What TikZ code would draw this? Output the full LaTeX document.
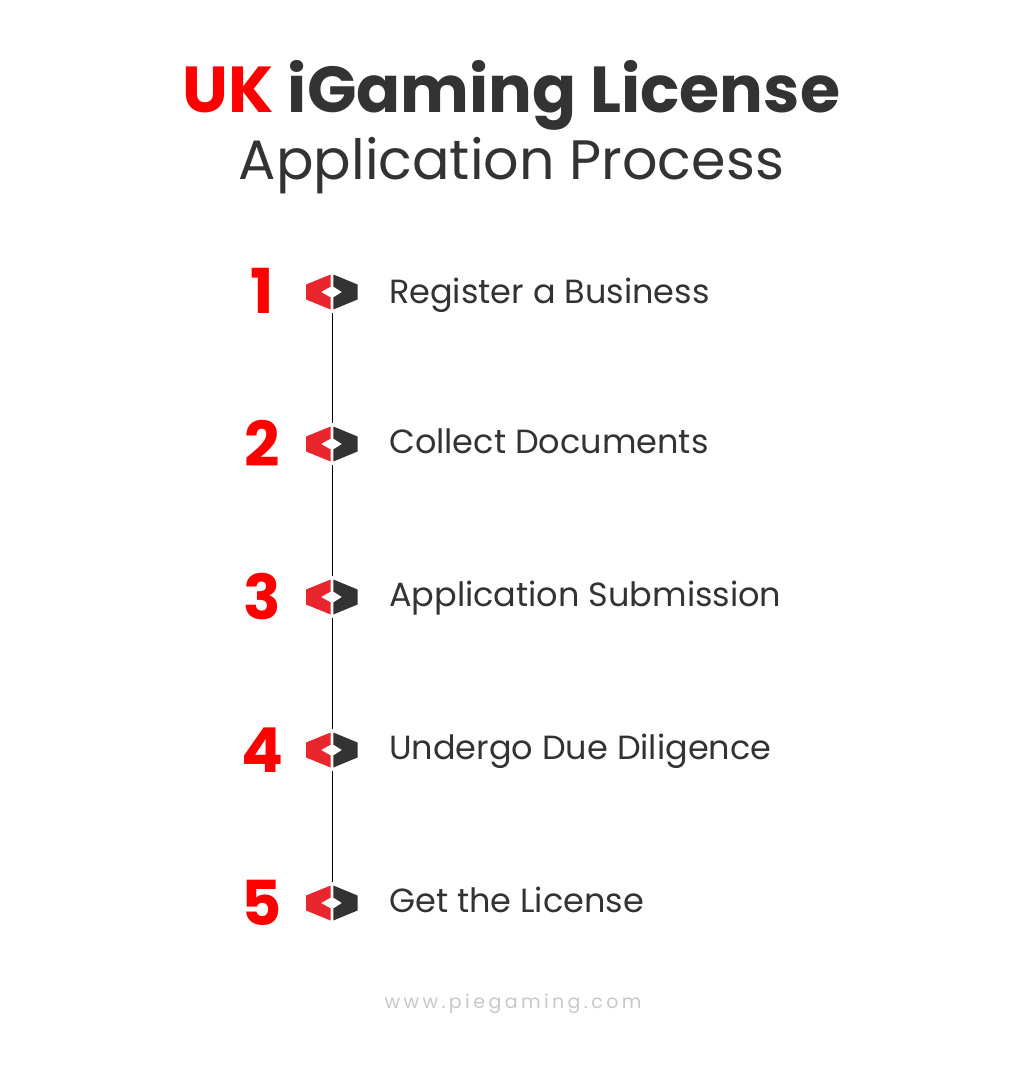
\documentclass[tikz,border=0pt]{standalone}
\usepackage{fontspec}
\setmainfont{Poppins}
\newfontfamily\footfont{Poppins}[LetterSpace=18]
\usetikzlibrary{calc}
\definecolor{tred}{HTML}{FF0000}
\definecolor{ired}{HTML}{E9262E}
\definecolor{dark}{HTML}{333333}
\definecolor{foot}{HTML}{C8C8C8}
\tikzset{
  iconbox/.style={minimum width=52pt, minimum height=35pt, inner sep=0pt, draw=none},
  num/.style={anchor=base, text=tred, font=\fontsize{62}{62}\selectfont\bfseries},
  steptext/.style={anchor=base west, inner sep=0pt, text=dark, font=\fontsize{33.5}{33.5}\selectfont},
  link/.style={draw=black, line width=0.9pt, shorten <=3pt, shorten >=3pt}
}
\newcommand\stepicon[2]{%
  \node[iconbox] (#1) at (#2) {};
  \begin{scope}[shift={(#1.center)}]
    \fill[ired] (-1.3,-17.5) -- (-26,-7.5) -- (-26,7.5) -- (-1.3,17.5) -- (-1.3,5.5) -- (-11,0) -- (-1.3,-5.5) -- cycle;
    \fill[dark] (1.3,-17.5) -- (25.5,-7.5) -- (25.5,7.5) -- (1.3,17.5) -- (1.3,5.5) -- (10,0) -- (1.3,-5.5) -- cycle;
  \end{scope}}
\begin{document}
\begin{tikzpicture}[x=1pt,y=-1pt]
\useasboundingbox[fill=white] (0,0) rectangle (1024,1075);
\node[anchor=base, inner sep=0pt, text=dark, font=\fontsize{65}{65}\selectfont\bfseries] (t1) at (511.5,113) {\textcolor{tred}{UK} iGaming License};
\node[anchor=base, inner sep=0pt, text=dark, font=\fontsize{55.5}{55.5}\selectfont] (t2) at (511.5,180) {Application Process};

\stepicon{i1}{332,292}
\stepicon{i2}{332,444}
\stepicon{i3}{332,597}
\stepicon{i4}{332,750}
\stepicon{i5}{332,903}

\node[num] (n1) at (262,313) {1};
\node[num] (n2) at (262,466) {2};
\node[num] (n3) at (262,619) {3};
\node[num] (n4) at (262,772) {4};
\node[num] (n5) at (262,925) {5};

\node[steptext] (s1) at (389,303) {Register a Business};
\node[steptext] (s2) at (389,453) {Collect Documents};
\node[steptext] (s3) at (389,606) {Application Submission};
\node[steptext] (s4) at (389,759) {Undergo Due Diligence};
\node[steptext] (s5) at (389,912) {Get the License};

\draw[link] (i1.south) -- (i2.north);
\draw[link] (i2.south) -- (i3.north);
\draw[link] (i3.south) -- (i4.north);
\draw[link] (i4.south) -- (i5.north);

\node[anchor=base, text=foot, font=\fontsize{19}{19}\footfont] (w) at (513,1008) {www.piegaming.com};
\end{tikzpicture}
\end{document}
